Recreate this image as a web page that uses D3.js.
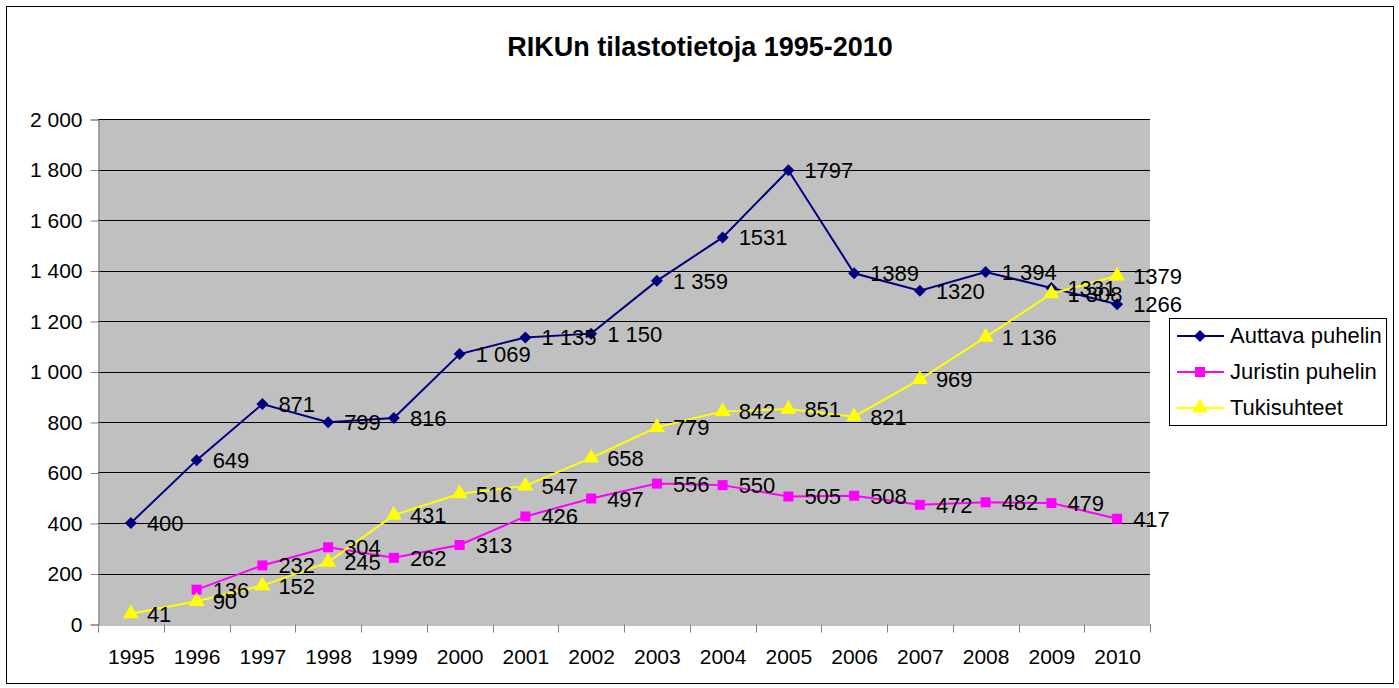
<!DOCTYPE html>
<html><head><meta charset="utf-8">
<script src="https://cdn.jsdelivr.net/npm/d3@7"></script>
<style>body{margin:0;background:#fff}text{font-family:"Liberation Sans",Arial,sans-serif}</style>
</head><body><svg id="c" width="1399" height="688"></svg>
<script>
const years = ["1995","1996","1997","1998","1999","2000","2001","2002","2003","2004","2005","2006","2007","2008","2009","2010"];
const auttava = [400,649,871,799,816,1069,1135,1150,1359,1531,1797,1389,1320,1394,1331,1266];
const auttavaLabels = ["400","649","871","799","816","1 069","1 135","1 150","1 359","1531","1797","1389","1320","1 394","1331","1266"];
const juristin = [null,136,232,304,262,313,426,497,556,550,505,508,472,482,479,417];
const juristinLabels = [null,"136","232","304","262","313","426","497","556","550","505","508","472","482","479","417"];
const tuki = [41,90,152,245,431,516,547,658,779,842,851,821,969,1136,1308,1379];
const tukiLabels = ["41","90","152","245","431","516","547","658","779","842","851","821","969","1 136","1 308","1379"];
const yTicks = [0,200,400,600,800,1000,1200,1400,1600,1800,2000];
const yTickLabels = ["0","200","400","600","800","1 000","1 200","1 400","1 600","1 800","2 000"];
const seriesNames = ["Auttava puhelin","Juristin puhelin","Tukisuhteet"];
const seriesColors = ["#000080","#FF00FF","#FFFF00"];

const diamond = {draw(ctx,size){const r=Math.sqrt(size)/2; ctx.moveTo(0,-r);ctx.lineTo(r,0);ctx.lineTo(0,r);ctx.lineTo(-r,0);ctx.closePath();}};
const seriesSymbols = [diamond, d3.symbolSquare, d3.symbolTriangle];
const symbolSizes = [144, 100, 110];

const svg = d3.select("#c");
svg.append("rect").attr("x",6.5).attr("y",6.5).attr("width",1387).attr("height",677).attr("fill","#fff").attr("stroke","#000").attr("stroke-width",1);

const L=98, R=1150, T=119, B=624;
const x = d3.scaleBand().domain(years).range([L,R]);
const y = d3.scaleLinear().domain([0,2000]).range([B,T]);

svg.append("text").attr("x",700).attr("y",56).attr("text-anchor","middle").attr("font-size",27).attr("font-weight","bold").text("RIKUn tilastotietoja 1995-2010");

svg.append("rect").attr("x",L).attr("y",T).attr("width",R-L).attr("height",B-T).attr("fill","#C0C0C0");
svg.append("g").selectAll("line").data(yTicks.slice(1)).join("line")
  .attr("x1",L).attr("x2",R).attr("y1",d=>Math.round(y(d))+0.5).attr("y2",d=>Math.round(y(d))+0.5).attr("stroke","#000").attr("stroke-width",1);

// y axis
const yAxis = d3.axisLeft(y).tickValues(yTicks).tickSize(8).tickFormat((d,i)=>yTickLabels[i]);
const gy = svg.append("g").attr("transform",`translate(${L+0.5},0.5)`).call(yAxis);
gy.select(".domain").attr("stroke","#808080");
gy.selectAll(".tick line").attr("stroke","#808080");
gy.selectAll(".tick text").attr("font-size",21).attr("fill","#000").attr("x",-16).attr("font-family","Liberation Sans, Arial, sans-serif");

// x axis
const gx = svg.append("g").attr("transform",`translate(0.5,${B+0.5})`).call(d3.axisBottom(x).tickSize(0));
gx.select(".domain").attr("stroke","#808080");
gx.selectAll(".tick text").attr("font-size",21).attr("fill","#000").attr("y",25).attr("font-family","Liberation Sans, Arial, sans-serif");
gx.append("g").selectAll("line").data(years.concat(["end"])).join("line")
  .attr("x1",(d,i)=>Math.round(L+i*x.step())).attr("x2",(d,i)=>Math.round(L+i*x.step()))
  .attr("y1",0).attr("y2",8).attr("stroke","#808080");

const data = [
  {vals:auttava, labels:auttavaLabels},
  {vals:juristin, labels:juristinLabels},
  {vals:tuki, labels:tukiLabels}
];
const cx = d=>x(d)+x.bandwidth()/2;
const ptsOf = s => years.map((yr,i)=>({yr,v:s.vals[i],lab:s.labels[i]})).filter(p=>p.v!=null);
data.forEach((s,si)=>{
  const line = d3.line().x(p=>cx(p.yr)).y(p=>y(p.v));
  svg.append("path").attr("d",line(ptsOf(s))).attr("fill","none").attr("stroke",seriesColors[si]).attr("stroke-width",2);
});
data.forEach((s,si)=>{
  svg.append("g").selectAll("path").data(ptsOf(s)).join("path")
    .attr("transform",p=>`translate(${cx(p.yr)},${y(p.v)})`)
    .attr("d",d3.symbol().type(seriesSymbols[si]).size(symbolSizes[si]))
    .attr("fill",seriesColors[si]);
});
data.forEach((s,si)=>{
  svg.append("g").selectAll("text").data(ptsOf(s)).join("text")
    .attr("x",p=>cx(p.yr)+16).attr("y",p=>y(p.v)+8)
    .attr("font-size",22).attr("fill","#000").text(p=>p.lab);
});

// legend
const lg = svg.append("g");
lg.append("rect").attr("x",1169.5).attr("y",318.5).attr("width",217).attr("height",107).attr("fill","#fff").attr("stroke","#000");
seriesNames.forEach((n,i)=>{
  const yy = 336 + i*36;
  lg.append("line").attr("x1",1177).attr("x2",1224).attr("y1",yy).attr("y2",yy).attr("stroke",seriesColors[i]).attr("stroke-width",2);
  lg.append("path").attr("transform",`translate(1200,${yy})`).attr("d",d3.symbol().type(seriesSymbols[i]).size(symbolSizes[i])).attr("fill",seriesColors[i]);
  lg.append("text").attr("x",1230).attr("y",yy+7).attr("font-size",22).text(n);
});
</script></body></html>
